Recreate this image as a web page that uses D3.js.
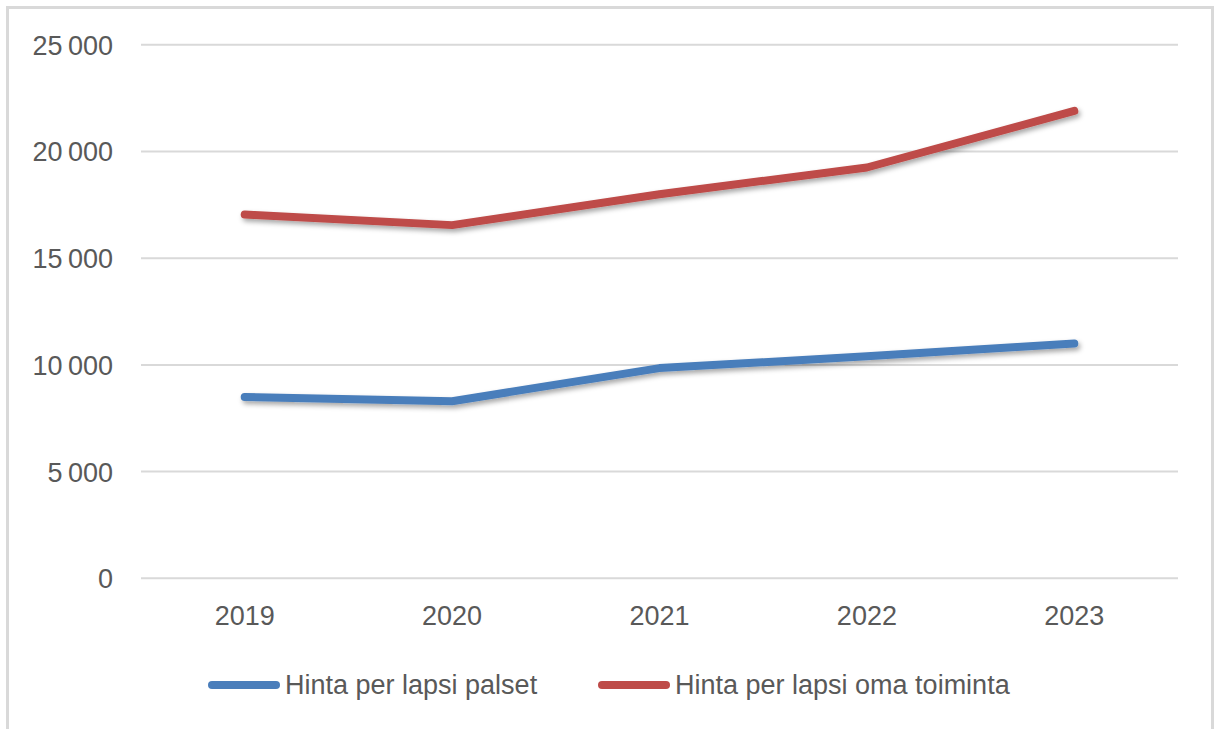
<!DOCTYPE html>
<html>
<head>
<meta charset="utf-8">
<script src="https://cdn.jsdelivr.net/npm/d3@7"></script>
<style>
  html, body { margin: 0; padding: 0; background: #fff; }
  svg { display: block; font-family: "Liberation Sans", Arial, sans-serif; }
</style>
</head>
<body>
<svg id="chart" width="1214" height="729"></svg>
<script>
'use strict';
// Values
const years = ["2019", "2020", "2021", "2022", "2023"];
const palset = [8500, 8300, 9850, 10400, 11000];
const omaToiminta = [17050, 16550, 18000, 19250, 21900];
const yTicks = [0, 5000, 10000, 15000, 20000, 25000];
const seriesNames = ["Hinta per lapsi palset", "Hinta per lapsi oma toiminta"];
const seriesColors = ["#4a7ebb", "#be4b48"];

(function () {
  const width = 1214, height = 729;
  const margin = {top: 44.8, right: 36, bottom: 150.7, left: 141};
  const fontSize = "27px";
  const svg = d3.select("#chart");

  // chart frame, cut off at the bottom like the screenshot
  svg.append("rect")
    .attr("x", 7.5).attr("y", 7.5)
    .attr("width", 1205).attr("height", 740)
    .attr("fill", "#fff")
    .attr("stroke", "#d9d9d9")
    .attr("stroke-width", 3);

  // soft shadow under the lines
  const defs = svg.append("defs");
  const filter = defs.append("filter").attr("id", "shadow")
    .attr("x", "-10%").attr("y", "-50%").attr("width", "120%").attr("height", "200%");
  filter.append("feDropShadow")
    .attr("dx", 2).attr("dy", 3).attr("stdDeviation", 2.5)
    .attr("flood-color", "#000").attr("flood-opacity", 0.35);

  const x = d3.scaleBand()
    .domain(years)
    .range([margin.left, width - margin.right]);
  const y = d3.scaleLinear()
    .domain([0, 25000])
    .range([height - margin.bottom, margin.top]);

  const fmt = v => d3.format(",")(v).replace(/,/g, "\u2009");

  // gridlines
  svg.append("g")
    .selectAll("line")
    .data(yTicks)
    .join("line")
      .attr("x1", margin.left).attr("x2", width - margin.right)
      .attr("y1", d => y(d)).attr("y2", d => y(d))
      .attr("stroke", "#d9d9d9")
      .attr("stroke-width", 2);

  // y axis labels
  const yAxis = svg.append("g")
    .attr("transform", `translate(${margin.left - 28},0)`)
    .call(d3.axisLeft(y).tickValues(yTicks).tickSize(0).tickPadding(0).tickFormat(fmt));
  yAxis.select(".domain").remove();
  yAxis.selectAll("text")
    .attr("fill", "#595959")
    .style("font-size", fontSize)
    .attr("dy", "0.35em");

  // x axis labels
  const xAxis = svg.append("g")
    .attr("transform", `translate(0,${y(0) + 28})`)
    .call(d3.axisBottom(x).tickSize(0).tickPadding(0));
  xAxis.select(".domain").remove();
  xAxis.selectAll("text")
    .attr("fill", "#595959")
    .style("font-size", fontSize)
    .attr("dy", "0.71em");

  const line = d3.line()
    .x((d, i) => x(years[i]) + x.bandwidth() / 2)
    .y(d => y(d));

  [palset, omaToiminta].forEach((values, i) => {
    svg.append("path")
      .datum(values)
      .attr("d", line)
      .attr("fill", "none")
      .attr("stroke", seriesColors[i])
      .attr("stroke-width", 8)
      .attr("stroke-linecap", "round")
      .attr("stroke-linejoin", "round")
      .attr("filter", "url(#shadow)");
  });

  // legend
  const legendX = [208, 598];
  const legendY = 685;
  const legend = svg.append("g");
  seriesNames.forEach((name, i) => {
    legend.append("line")
      .attr("x1", legendX[i] + 4).attr("x2", legendX[i] + 68)
      .attr("y1", legendY).attr("y2", legendY)
      .attr("stroke", seriesColors[i])
      .attr("stroke-width", 8)
      .attr("stroke-linecap", "round");
    legend.append("text")
      .attr("x", legendX[i] + 77)
      .attr("y", legendY)
      .attr("dy", "0.35em")
      .attr("fill", "#595959")
      .style("font-size", fontSize)
      .text(name);
  });
})();
</script>
</body>
</html>
